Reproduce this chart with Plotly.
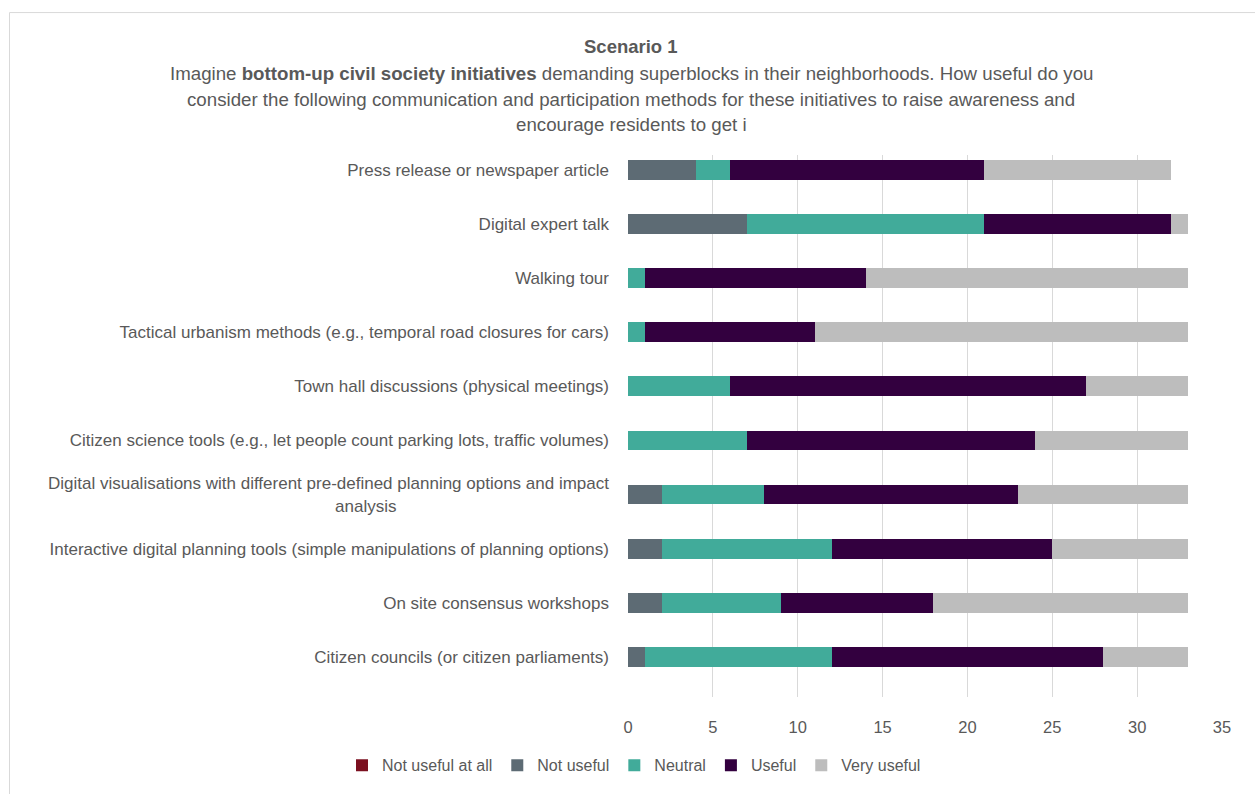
import plotly.graph_objects as go

categories = [
    "Press release or newspaper article",
    "Digital expert talk",
    "Walking tour",
    "Tactical urbanism methods (e.g., temporal road closures for cars)",
    "Town hall discussions (physical meetings)",
    "Citizen science tools (e.g., let people count parking lots, traffic volumes)",
    "Digital visualisations with different pre-defined planning options and impact<br>analysis" + "\u00a0" * 45,
    "Interactive digital planning tools (simple manipulations of planning options)",
    "On site consensus workshops",
    "Citizen councils (or citizen parliaments)",
]
not_useful_at_all = [0, 0, 0, 0, 0, 0, 0, 0, 0, 0]
not_useful = [4, 7, 0, 0, 0, 0, 2, 2, 2, 1]
neutral = [2, 14, 1, 1, 6, 7, 6, 10, 7, 11]
useful = [15, 11, 13, 10, 21, 17, 15, 13, 9, 16]
very_useful = [11, 1, 19, 22, 6, 9, 10, 8, 15, 5]

series_names = ["Not useful at all", "Not useful", "Neutral", "Useful", "Very useful"]
series_values = [not_useful_at_all, not_useful, neutral, useful, very_useful]
colors = ["#7B1020", "#5D6B74", "#41AB9A", "#33003F", "#BDBDBD"]

x_ticks = [0, 5, 10, 15, 20, 25, 30, 35]

# layout geometry (pixels)
W, H = 1255, 794
L, R, T, B = 628, 1222, 155, 703
pw, ph = R - L, B - T

def px(x):
    return (x - L) / pw

def py(y):
    return (B - y) / ph

TXT = "#595959"
FONT = "Liberation Sans"

fig = go.Figure()
cats_rev = categories[::-1]
for name, vals, col in zip(series_names, series_values, colors):
    fig.add_trace(go.Bar(
        name=name, y=cats_rev, x=vals[::-1], orientation="h",
        marker=dict(color=col, line=dict(width=0)), width=0.365,
    ))

fig.update_layout(
    width=W, height=H,
    margin=dict(l=L, r=W - R, t=T, b=H - B, pad=0),
    barmode="stack",
    paper_bgcolor="white", plot_bgcolor="white",
    font=dict(family=FONT, color=TXT, size=16),
    showlegend=True,
    legend=dict(orientation="h", x=px(634), y=py(772), xanchor="center", yanchor="middle",
                font=dict(size=16, color=TXT), traceorder="normal", itemwidth=30,
                bgcolor="rgba(0,0,0,0)"),
    xaxis=dict(range=[0, 35], tickvals=x_ticks, showgrid=True, gridcolor="#D9D9D9", gridwidth=1,
               zeroline=False, showline=False, ticks="", tickfont=dict(size=16.5, color=TXT),
               ticklabelstandoff=18, fixedrange=True),
    yaxis=dict(type="category", categoryorder="array", categoryarray=cats_rev,
               range=[-0.74, 9.274], showgrid=False, zeroline=False, showline=False,
               ticks="", tickfont=dict(size=17, color=TXT), ticklabelstandoff=18),
)

# chart frame
fig.add_shape(type="rect", xref="paper", yref="paper",
              x0=px(9.5), x1=px(W + 20), y0=py(H + 20), y1=py(11),
              line=dict(color="#D9D9D9", width=1), fillcolor="rgba(0,0,0,0)", layer="below")

title_lines = [
    ("<b>Scenario 1</b>", 45, 18.5),
    ("Imagine <b>bottom-up civil society initiatives</b> demanding superblocks in their neighborhoods. How useful do you", 73, 18.7),
    ("consider the following communication and participation methods for these initiatives to raise awareness and", 99, 18.7),
    ("encourage residents to get i", 124, 18.7),
]
for text, ypix, size in title_lines:
    fig.add_annotation(text=text, xref="paper", yref="paper", x=px(631), y=py(ypix),
                       xanchor="center", yanchor="middle", showarrow=False,
                       font=dict(size=size, color=TXT, family=FONT))

fig.write_html("out.html")
